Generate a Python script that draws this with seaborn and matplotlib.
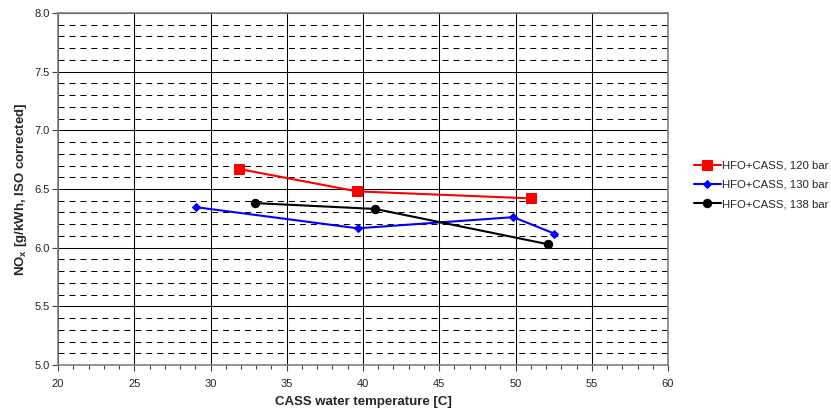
import numpy as np
import pandas as pd
import matplotlib
matplotlib.use("Agg")
import matplotlib.pyplot as plt
from matplotlib.ticker import MultipleLocator
import seaborn as sns

# Data
temp_120 = [31.9, 39.6, 51.0]
nox_120 = [6.67, 6.48, 6.42]
temp_130 = [29.05, 39.65, 49.85, 52.55]
nox_130 = [6.345, 6.165, 6.26, 6.12]
temp_138 = [32.9, 40.8, 52.1]
nox_138 = [6.38, 6.33, 6.03]
labels = ["HFO+CASS, 120 bar", "HFO+CASS, 130 bar", "HFO+CASS, 138 bar"]

sns.set_style("white")
plt.rcParams['font.family'] = ['Liberation Sans', 'DejaVu Sans']
plt.rcParams['mathtext.fontset'] = 'custom'
plt.rcParams['mathtext.rm'] = 'Liberation Sans'
plt.rcParams['mathtext.bf'] = 'Liberation Sans:bold'
plt.rcParams['lines.scale_dashes'] = False

fig = plt.figure(figsize=(8.31, 4.09), dpi=100)
ax = fig.add_axes([58/831, 1-365/409, (668-58)/831, (365-13)/409])

series = [
    (temp_120, nox_120, labels[0], "#ff0000", "s", 7),
    (temp_130, nox_130, labels[1], "#0000ff", "D", 4.5),
    (temp_138, nox_138, labels[2], "#000000", "o", 6),
]
for xs, ys, lab, col, mk, ms in series:
    df = pd.DataFrame({"x": xs, "y": ys})
    sns.lineplot(data=df, x="x", y="y", ax=ax, sort=False, color=col,
                 marker=mk, markersize=ms, markeredgecolor=col,
                 linewidth=1.5, label=lab, zorder=5)

ax.set_xlim(20, 60)
ax.set_ylim(5.0, 8.0)
ax.xaxis.set_major_locator(MultipleLocator(5))
ax.xaxis.set_minor_locator(MultipleLocator(1))
ax.yaxis.set_major_locator(MultipleLocator(0.5))
ax.yaxis.set_minor_locator(MultipleLocator(0.1))
ax.yaxis.set_major_formatter(matplotlib.ticker.FormatStrFormatter('%.1f'))

ax.grid(which='major', axis='both', color='black', linewidth=0.75, linestyle='-')
ax.grid(which='minor', axis='y', color='black', linewidth=0.75, linestyle=(0, (4.3, 3.6)))
ax.set_axisbelow(True)

ax.tick_params(axis='x', which='major', direction='out', length=4, width=0.8,
               color='#404040', labelsize=8, bottom=True, pad=6)
ax.tick_params(axis='x', which='minor', direction='out', length=3, width=0.8,
               color='#404040', bottom=True)
ax.tick_params(axis='y', which='major', direction='out', length=4, width=0.8,
               color='#404040', labelsize=8, left=True, pad=2)
ax.tick_params(axis='y', which='minor', length=0)

for s in ax.spines.values():
    s.set_color('#808080')
    s.set_linewidth(1.2)

ax.set_xlabel("CASS water temperature [C]", fontsize=9.5, fontweight='bold', labelpad=5)
ax.set_ylabel(r"NO$_\mathbf{x}$ [g/kWh, ISO corrected]", fontsize=9.5, fontweight='bold', labelpad=3.5)

ax.legend(loc='center left', bbox_to_anchor=(689/831, 1-185/409),
          bbox_transform=fig.transFigure, frameon=False, fontsize=8.2,
          handlelength=2.4, handletextpad=0.1, labelspacing=0.8,
          borderaxespad=0)

fig.savefig("out.png", dpi=100)
